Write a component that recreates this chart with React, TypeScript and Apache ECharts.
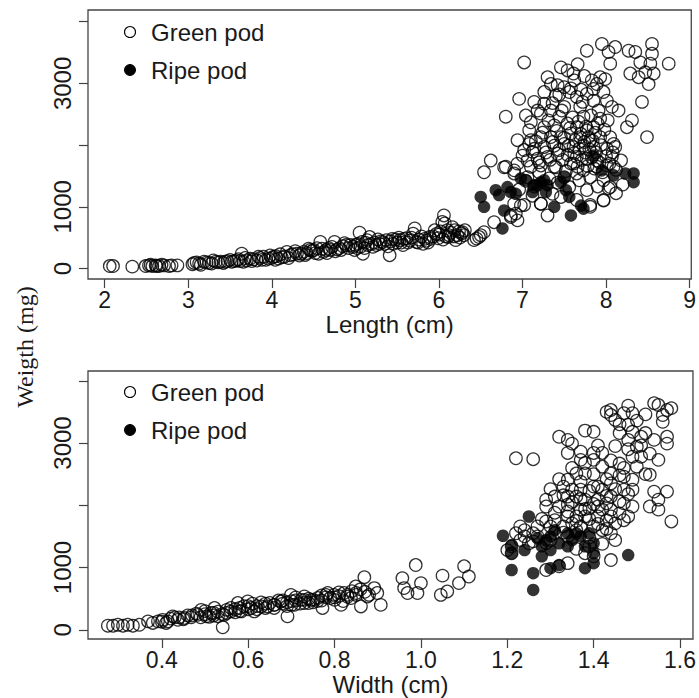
import React, { useEffect, useRef } from "react";
import * as echarts from "echarts";

// ---------- tick values ----------
const lengthTicks = [2, 3, 4, 5, 6, 7, 8, 9];
const widthTicks = [0.4, 0.6, 0.8, 1.0, 1.2, 1.4, 1.6];
const weightTicks = [0, 1000, 2000, 3000, 4000];
const weightLabels = [0, 1000, 3000];

const legendNames = ["Green pod", "Ripe pod"];
const xTitles = ["Length (cm)", "Width (cm)"];
const yTitle = "Weigth (mg)";

// ---------- data: [length (cm), weight (mg)] ----------
const lengthGreen: [number, number][] = [
  [2.06, 40], [2.10, 40], [2.33, 30], [2.49, 40], [2.53, 50], [2.55, 60], [2.57, 40], [2.61, 50], [2.62, 40], [2.65, 40],
  [2.68, 60], [2.71, 50], [2.77, 40], [2.80, 50], [2.87, 50],
  [3.05, 70], [3.07, 90], [3.10, 100], [3.13, 80], [3.19, 110], [3.22, 100], [3.25, 90], [3.28, 80], [3.33, 110], [3.36, 100],
  [3.39, 110], [3.44, 110], [3.47, 120], [3.52, 110], [3.55, 120], [3.58, 130], [3.60, 150], [3.64, 240], [3.66, 110], [3.70, 130],
  [3.74, 160], [3.78, 150], [3.82, 130], [3.86, 170], [3.90, 190], [3.93, 140], [3.96, 160], [4.00, 170], [4.02, 190], [4.05, 200],
  [4.08, 160], [4.12, 180], [4.18, 270], [4.22, 215], [4.25, 230], [4.30, 240], [4.33, 210], [4.38, 270], [4.42, 250], [4.46, 300],
  [4.48, 280], [4.52, 250], [4.54, 330], [4.58, 430], [4.62, 270], [4.65, 300], [4.68, 330], [4.70, 300], [4.75, 430], [4.78, 310],
  [4.81, 330], [4.85, 360], [4.89, 380], [4.92, 330], [4.97, 350], [5.00, 380], [5.03, 400], [5.05, 580], [5.06, 350], [5.09, 240],
  [5.12, 420], [5.15, 380], [5.17, 510], [5.21, 350], [5.23, 420], [5.29, 400], [5.30, 440], [5.35, 400], [5.37, 460], [5.41, 215],
  [5.42, 440], [5.45, 400], [5.48, 470], [5.53, 460], [5.55, 420], [5.58, 480], [5.61, 490], [5.65, 450], [5.69, 565], [5.71, 650],
  [5.73, 430], [5.76, 470], [5.81, 400], [5.85, 450], [5.89, 510], [5.90, 480], [5.95, 620], [5.97, 560], [5.99, 490], [6.02, 600],
  [6.04, 755], [6.06, 860], [6.07, 730], [6.08, 520], [6.11, 510], [6.12, 540], [6.14, 580], [6.16, 670], [6.19, 620], [6.20, 460],
  [6.22, 540], [6.25, 500], [6.27, 565], [6.28, 590], [6.31, 620], [6.42, 460], [6.45, 485], [6.48, 510], [6.50, 540], [6.54, 590],
  [3.15, 60], [3.30, 130], [3.42, 90], [3.50, 140], [3.62, 120], [3.68, 170], [3.76, 120], [3.84, 190], [3.88, 140], [3.98, 210],
  [4.04, 140], [4.10, 230], [4.15, 190], [4.20, 170], [4.28, 280], [4.35, 240], [4.40, 220], [4.44, 320], [4.50, 300], [4.56, 240],
  [4.60, 320], [4.66, 250], [4.72, 350], [4.76, 280], [4.83, 300], [4.87, 410], [4.94, 380], [4.99, 300], [5.02, 330], [5.08, 430],
  [5.11, 330], [5.14, 460], [5.19, 400], [5.25, 380], [5.27, 470], [5.33, 430], [5.39, 360], [5.44, 480], [5.50, 420], [5.52, 500],
  [5.57, 380], [5.63, 420], [5.67, 500], [5.75, 420], [5.79, 520], [5.83, 480], [5.87, 420], [5.93, 520], [6.00, 550], [6.05, 470],
  [6.10, 620], [6.18, 520], [6.24, 600], [6.30, 540],
  [6.66, 750], [6.54, 1560], [6.62, 1750], [6.78, 1640], [6.90, 1590], [6.86, 835], [6.92, 890], [6.98, 1020], [7.22, 1050], [7.81, 1000],
  [7.97, 1100], [8.05, 1320],
  [7.77, 3530], [7.95, 3640], [8.03, 3510], [8.11, 3590], [8.27, 3530], [8.35, 3510], [8.55, 3640], [8.55, 3480], [8.41, 3340], [8.05, 3320],
  [8.75, 3320], [8.53, 3320], [8.47, 3180], [8.57, 3160], [8.29, 3160], [8.39, 3100], [8.51, 2990], [7.83, 3050], [7.89, 2990], [7.93, 3100],
  [7.99, 3070], [7.85, 2910], [7.97, 2860], [7.77, 2830], [7.46, 3260], [7.54, 3210], [7.61, 3160], [7.30, 3100], [7.34, 2990], [7.42, 2970],
  [7.50, 2940], [7.26, 2860], [7.40, 2800], [7.56, 2860], [7.65, 2780], [7.02, 3340], [6.96, 2750], [7.14, 2700], [6.80, 2460], [7.04, 2480],
  [7.26, 2670], [7.34, 2560], [7.50, 2620], [7.69, 2620], [7.85, 2720], [8.01, 2720], [8.07, 2620], [8.15, 2560], [7.91, 2560], [7.93, 2430],
  [7.73, 2460], [7.44, 2460], [7.22, 2510], [7.10, 2370], [7.08, 2240], [7.26, 2290], [7.38, 2320], [7.54, 2350], [7.65, 2290], [7.77, 2240],
  [7.85, 2290], [8.25, 2290], [8.31, 2400], [8.43, 2700], [8.49, 2130], [6.94, 2080], [7.10, 2080], [7.22, 2130], [7.34, 2130], [7.46, 2130],
  [7.58, 2190], [7.69, 2130], [7.81, 2080], [7.93, 2130], [8.09, 2020], [8.05, 2130], [7.02, 1920], [7.14, 1940], [7.26, 1970], [7.38, 1990],
  [7.50, 2020], [7.61, 1970], [7.73, 1990], [7.85, 1970], [8.01, 1940], [8.11, 1970], [7.06, 1750], [7.18, 1780], [7.30, 1810], [7.42, 1860],
  [7.54, 1840], [7.65, 1810], [7.77, 1780], [7.89, 1750], [8.07, 1810], [6.80, 1650], [6.94, 1700], [7.10, 1650], [7.22, 1670], [7.38, 1650],
  [7.61, 1700], [7.73, 1590], [7.89, 1650], [8.01, 1670], [8.09, 1650], [6.90, 1540], [7.06, 1480], [7.50, 1480], [7.65, 1540], [7.81, 1480],
  [7.97, 1430], [6.90, 1050], [7.02, 1030], [7.22, 1050], [7.30, 860], [7.46, 1160], [7.65, 1110], [7.81, 1030], [7.97, 1110], [8.03, 1300],
  [7.77, 1270], [6.86, 860], [6.94, 780],
  [7.12, 1890], [7.16, 2060], [7.20, 1720], [7.24, 2200], [7.28, 1880], [7.31, 2400], [7.33, 1760], [7.36, 2050], [7.40, 1640], [7.41, 2230],
  [7.44, 1920], [7.47, 2560], [7.48, 1760], [7.50, 2120], [7.52, 1580], [7.55, 1990], [7.57, 2280], [7.58, 1700], [7.60, 2450], [7.62, 1870],
  [7.63, 2080], [7.66, 1650], [7.67, 2380], [7.68, 1940], [7.70, 2180], [7.71, 1760], [7.72, 2700], [7.74, 2050], [7.75, 1880], [7.76, 2300],
  [7.78, 1660], [7.79, 2130], [7.80, 1930], [7.82, 2480], [7.83, 1800], [7.84, 2070], [7.86, 1620], [7.87, 2200], [7.88, 1880], [7.90, 2350],
  [7.92, 1720], [7.94, 2000], [7.96, 1560], [7.98, 2250], [8.00, 1820], [8.02, 2400], [8.04, 1700], [8.08, 1880], [8.12, 1600], [8.18, 1750],
  [7.58, 2920], [7.62, 3050], [7.70, 2900], [7.74, 3120], [7.66, 3310], [7.36, 2680], [7.44, 2820], [7.18, 2560], [7.08, 2020], [7.00, 1830],
  [7.04, 1420], [7.14, 1330], [7.20, 1560], [7.32, 1460], [7.42, 1390], [7.56, 1320], [7.68, 1430], [7.90, 1330], [8.12, 1220], [8.20, 1360],
  [7.12, 1180], [7.36, 1210], [6.96, 1280],
];

const lengthRipe: [number, number][] = [
  [6.50, 1160], [6.54, 1000], [6.68, 1270], [6.72, 1190], [6.82, 1320], [6.86, 1240], [6.92, 1210], [6.78, 940], [6.76, 650], [6.98, 1460],
  [7.04, 1430], [7.12, 1240], [7.14, 1350], [7.18, 1350], [7.22, 1400], [7.26, 1430], [7.28, 1240], [7.30, 1350], [7.38, 1000], [7.46, 1400],
  [7.50, 1480], [7.52, 1270], [7.56, 1160], [7.58, 860], [7.70, 1020], [7.73, 970], [7.85, 1830], [7.95, 1590], [8.09, 1510], [8.23, 1540],
  [8.33, 1540], [8.33, 1400],
];

// ---------- data: [width (cm), weight (mg)] ----------
const widthGreen: [number, number][] = [
  [0.275, 65], [0.287, 65], [0.298, 80], [0.310, 65], [0.321, 80], [0.333, 65], [0.348, 80], [0.368, 135], [0.379, 110], [0.391, 135],
  [0.40, 130], [0.402, 160], [0.414, 135], [0.42, 180], [0.425, 215], [0.437, 160], [0.44, 200], [0.45, 170], [0.452, 190], [0.468, 200],
  [0.47, 230], [0.48, 260], [0.483, 240], [0.491, 320], [0.50, 250], [0.503, 215], [0.51, 210], [0.514, 270], [0.52, 230], [0.522, 350],
  [0.53, 215], [0.53, 290], [0.541, 40], [0.545, 240], [0.55, 270], [0.56, 295], [0.56, 350], [0.57, 330], [0.576, 430], [0.58, 300],
  [0.584, 295], [0.59, 380], [0.599, 455], [0.60, 380], [0.607, 350], [0.614, 295], [0.62, 330], [0.63, 375], [0.63, 440], [0.64, 420],
  [0.645, 375], [0.66, 350], [0.661, 400], [0.67, 470], [0.676, 455], [0.68, 420], [0.69, 380], [0.691, 215], [0.699, 560], [0.70, 460],
  [0.707, 400], [0.71, 520], [0.72, 420], [0.722, 480], [0.73, 480], [0.730, 535], [0.74, 430], [0.745, 480], [0.75, 440], [0.76, 460],
  [0.761, 510], [0.77, 550], [0.772, 350], [0.78, 520], [0.784, 590], [0.79, 510], [0.799, 560], [0.80, 480], [0.81, 540], [0.815, 400],
  [0.82, 460], [0.822, 590], [0.83, 560], [0.838, 510], [0.84, 620], [0.849, 695], [0.85, 590], [0.861, 375], [0.869, 845], [0.87, 610],
  [0.876, 535], [0.892, 670], [0.899, 590], [0.907, 400], [0.957, 830], [0.961, 670], [0.969, 590], [0.988, 1040], [1.000, 750], [0.992, 590],
  [1.050, 870], [1.046, 560], [1.061, 615], [1.088, 750], [1.100, 1020], [1.111, 855],
  [0.41, 110], [0.43, 200], [0.46, 230], [0.49, 200], [0.50, 300], [0.52, 270], [0.54, 250], [0.55, 320], [0.57, 280], [0.58, 350],
  [0.60, 330], [0.61, 420], [0.62, 380], [0.64, 350], [0.65, 430], [0.66, 400], [0.68, 470], [0.69, 440], [0.70, 400], [0.71, 470],
  [0.73, 430], [0.74, 500], [0.75, 480], [0.77, 470], [0.78, 560], [0.80, 520], [0.81, 600], [0.83, 530], [0.85, 560], [0.86, 650],
  [0.88, 560],
  [1.22, 2755], [1.26, 2740], [1.32, 3100], [1.35, 2990], [1.34, 2840], [1.37, 2860], [1.37, 2730], [1.40, 2730], [1.40, 3180], [1.43, 3500],
  [1.44, 3530], [1.45, 3370], [1.47, 3480], [1.48, 3290], [1.49, 3480], [1.46, 3160], [1.48, 3050], [1.50, 2940], [1.51, 2780], [1.49, 2780],
  [1.51, 3100], [1.52, 3160], [1.54, 3640], [1.55, 3610], [1.57, 3530], [1.58, 3560], [1.56, 3450], [1.56, 3340], [1.54, 3050], [1.57, 3100],
  [1.57, 2990], [1.55, 2730], [1.53, 2490], [1.54, 2220], [1.57, 2220], [1.55, 2090], [1.53, 1980], [1.55, 1930], [1.58, 1740], [1.42, 2620],
  [1.44, 2510], [1.46, 2670], [1.47, 2460], [1.49, 2410], [1.44, 2350], [1.47, 2250], [1.49, 2250], [1.38, 2510], [1.36, 2510], [1.34, 2410],
  [1.33, 2300], [1.35, 2250], [1.37, 2250], [1.40, 2300], [1.42, 2250], [1.44, 2140], [1.47, 2030], [1.49, 1980], [1.43, 2030], [1.41, 2090],
  [1.38, 2090], [1.36, 2140], [1.34, 2140], [1.31, 2140], [1.29, 2090], [1.29, 1980], [1.32, 1980], [1.34, 2010], [1.37, 1930], [1.39, 1950],
  [1.41, 1980], [1.44, 1930], [1.46, 1870], [1.48, 1820], [1.45, 1710], [1.43, 1760], [1.41, 1820], [1.38, 1820], [1.36, 1820], [1.34, 1820],
  [1.31, 1760], [1.29, 1740], [1.27, 1660], [1.30, 1660], [1.33, 1660], [1.35, 1710], [1.37, 1660], [1.40, 1660], [1.42, 1600], [1.44, 1550],
  [1.24, 1600], [1.26, 1550], [1.23, 1660], [1.22, 1550], [1.24, 1500], [1.21, 1340], [1.25, 1390], [1.29, 1390], [1.31, 1550], [1.34, 1500],
  [1.38, 1230], [1.40, 1180], [1.39, 1340], [1.44, 1120], [1.29, 960], [1.32, 1020], [1.34, 1070], [1.21, 1230], [1.20, 1280],
  [1.32, 2420], [1.33, 2160], [1.34, 1900], [1.35, 2600], [1.35, 2050], [1.36, 1750], [1.37, 2380], [1.37, 2100], [1.38, 1940], [1.38, 2680],
  [1.39, 2230], [1.39, 1780], [1.40, 2500], [1.40, 2020], [1.41, 2300], [1.41, 1700], [1.42, 2840], [1.42, 1930], [1.43, 2420], [1.43, 2150],
  [1.44, 2720], [1.44, 1820], [1.45, 2260], [1.45, 2950], [1.46, 2060], [1.46, 3300], [1.47, 2600], [1.47, 1760], [1.48, 2900], [1.48, 2180],
  [1.49, 3180], [1.50, 2620], [1.50, 3360], [1.51, 2960], [1.52, 2500], [1.46, 2480], [1.30, 2260], [1.31, 1880], [1.28, 1780], [1.27, 1500],
  [1.33, 1560], [1.36, 1600], [1.39, 1480], [1.30, 1440], [1.26, 1420], [1.23, 1440], [1.43, 1620], [1.42, 1380], [1.45, 1440], [1.36, 1300],
  [1.34, 3050], [1.38, 3200], [1.41, 2960], [1.53, 2830], [1.52, 3460], [1.48, 3600], [1.44, 3450], [1.40, 2840],
];

const widthRipe: [number, number][] = [
  [1.25, 1820], [1.19, 1510], [1.21, 1360], [1.21, 1230], [1.24, 1280], [1.27, 1470], [1.28, 1340], [1.28, 1180], [1.30, 1280], [1.30, 1500],
  [1.31, 1600], [1.34, 1550], [1.35, 1440], [1.34, 1340], [1.36, 1550], [1.37, 1500], [1.39, 1550], [1.40, 1390], [1.40, 1230], [1.38, 1340],
  [1.40, 1070], [1.38, 990], [1.32, 1040], [1.30, 990], [1.21, 960], [1.26, 910], [1.26, 640], [1.48, 1200], [1.32, 1390], [1.29, 1440],
];

const SANS = "'Liberation Sans', Arial, Helvetica, sans-serif";
const SERIF = "'Liberation Serif', 'Times New Roman', serif";
const INK = "#1a1a1a";
const FRAME = "#444";

function xAxisFor(gridIndex: number, min: number, max: number, ticks: number[], name: string, digits: number) {
  return {
    type: "value",
    gridIndex,
    min,
    max,
    name,
    nameLocation: "middle",
    nameGap: 33,
    nameTextStyle: { fontFamily: SANS, fontSize: 24, color: INK },
    splitLine: { show: false },
    axisLine: { show: false, onZero: false },
    axisTick: { show: true, length: 9, customValues: ticks, lineStyle: { color: FRAME, width: 1.2 } },
    axisLabel: {
      customValues: ticks,
      margin: 9,
      fontFamily: SANS,
      fontSize: 23,
      color: INK,
      formatter: (v: number) => v.toFixed(digits),
    },
  };
}

function yAxisFor(gridIndex: number, min: number, max: number) {
  return {
    type: "value",
    gridIndex,
    min,
    max,
    splitLine: { show: false },
    axisLine: { show: false, onZero: false },
    axisTick: { show: true, length: 9, customValues: weightTicks, lineStyle: { color: FRAME, width: 1.2 } },
    axisLabel: {
      customValues: weightLabels,
      rotate: 90,
      margin: 14,
      fontFamily: SANS,
      fontSize: 24,
      color: INK,
      formatter: (v: number) => String(Math.round(v)),
    },
  };
}

function legendGraphics(top: number) {
  const gap = 38;
  return [
    { type: "circle", shape: { cx: 130, cy: top, r: 5.5 }, style: { fill: "none", stroke: "#000", lineWidth: 1.1 } },
    { type: "text", x: 151, y: top, style: { text: legendNames[0], fontFamily: SANS, fontSize: 24, fill: INK, align: "left", verticalAlign: "middle" } },
    { type: "circle", shape: { cx: 130, cy: top + gap, r: 5.5 }, style: { fill: "#000", stroke: "#000", lineWidth: 1 } },
    { type: "text", x: 151, y: top + gap, style: { text: legendNames[1], fontFamily: SANS, fontSize: 24, fill: INK, align: "left", verticalAlign: "middle" } },
  ];
}

export default function App() {
  const ref = useRef<HTMLDivElement>(null);
  useEffect(() => {
    if (!ref.current) return;
    const chart = echarts.init(ref.current, undefined, { renderer: "svg" });
    const openStyle = { color: "rgba(0,0,0,0)", borderColor: "#000", borderWidth: 1.25 };
    const fillStyle = { color: "#000", borderColor: "#000", borderWidth: 0 };
    chart.setOption({
      animation: false,
      backgroundColor: "#fff",
      grid: [
        { left: 88, top: 10, width: 607, height: 269, show: true, borderColor: FRAME, borderWidth: 1.3, backgroundColor: "transparent" },
        { left: 88, top: 371, width: 606, height: 268, show: true, borderColor: FRAME, borderWidth: 1.3, backgroundColor: "transparent" },
      ],
      xAxis: [
        xAxisFor(0, 1.8, 9.02, lengthTicks, xTitles[0], 0),
        xAxisFor(1, 0.229, 1.63, widthTicks, xTitles[1], 1),
      ],
      yAxis: [yAxisFor(0, -170, 4190), yAxisFor(1, -148, 4157)],
      series: [
        { type: "scatter", name: legendNames[0], xAxisIndex: 0, yAxisIndex: 0, data: lengthGreen, symbol: "circle", symbolSize: 12.5, itemStyle: openStyle },
        { type: "scatter", name: legendNames[1], xAxisIndex: 0, yAxisIndex: 0, data: lengthRipe, symbol: "circle", symbolSize: 12.5, itemStyle: fillStyle },
        { type: "scatter", name: legendNames[0], xAxisIndex: 1, yAxisIndex: 1, data: widthGreen, symbol: "circle", symbolSize: 12.5, itemStyle: openStyle },
        { type: "scatter", name: legendNames[1], xAxisIndex: 1, yAxisIndex: 1, data: widthRipe, symbol: "circle", symbolSize: 12.5, itemStyle: fillStyle },
      ],
      graphic: [
        ...legendGraphics(32),
        ...legendGraphics(392),
        {
          type: "text",
          x: 25,
          y: 347,
          rotation: Math.PI / 2,
          style: { text: yTitle, fontFamily: SERIF, fontSize: 24, fill: INK, align: "center", verticalAlign: "middle" },
        },
      ],
    });
    return () => chart.dispose();
  }, []);
  return <div ref={ref} style={{ position: "fixed", left: 0, top: 0, width: 699, height: 698 }} />;
}
